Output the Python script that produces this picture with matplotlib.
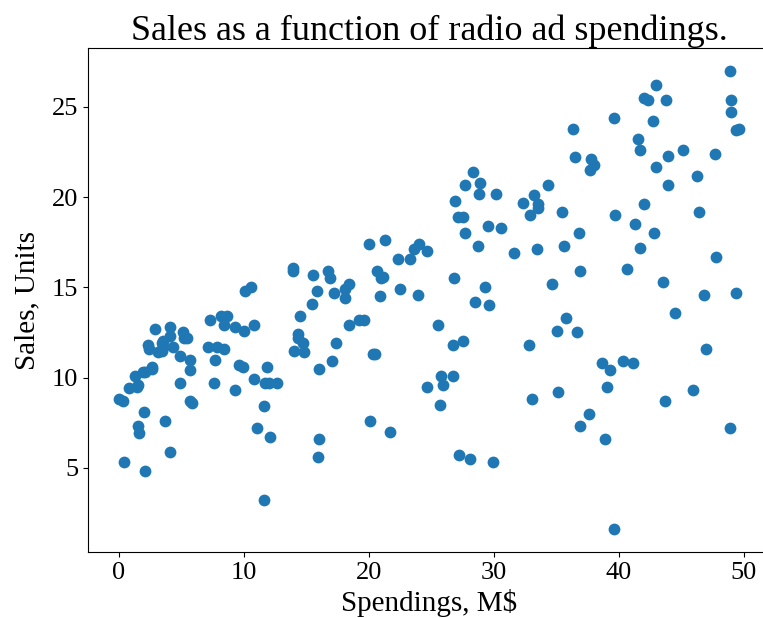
import matplotlib
matplotlib.use("Agg")
import matplotlib.pyplot as plt

radio = [37.8, 39.3, 45.9, 41.3, 10.8, 48.9, 32.8, 19.6, 2.1, 2.6,
         5.8, 24.0, 35.1, 7.6, 32.9, 47.7, 36.6, 39.6, 20.5, 23.9,
         27.7, 5.1, 15.9, 16.9, 12.6, 3.5, 29.3, 16.7, 27.1, 16.0,
         28.3, 17.4, 1.5, 20.0, 1.4, 4.1, 43.8, 49.4, 26.7, 37.7,
         22.3, 33.4, 27.7, 8.4, 25.7, 22.5, 9.9, 41.5, 15.8, 11.7,
         3.1, 9.6, 41.7, 46.2, 28.8, 49.4, 28.1, 19.2, 49.6, 29.5,
         2.0, 42.7, 15.5, 29.6, 42.8, 9.3, 24.6, 14.5, 27.5, 43.9,
         30.6, 14.3, 33.0, 5.7, 24.6, 43.7, 1.6, 28.5, 29.9, 7.7,
         26.7, 4.1, 20.3, 44.5, 43.0, 18.4, 27.5, 40.6, 25.5, 47.8,
         4.9, 1.5, 33.5, 36.5, 14.0, 31.6, 3.5, 21.0, 42.3, 41.7,
         4.3, 36.3, 10.1, 17.2, 34.3, 46.4, 11.0, 0.3, 0.4, 26.9,
         8.2, 38.0, 15.4, 20.6, 46.8, 35.0, 14.3, 0.8, 36.9, 16.0,
         26.8, 21.7, 2.4, 34.6, 32.3, 11.8, 38.9, 0.0, 49.0, 12.0,
         39.6, 2.9, 27.2, 33.5, 38.6, 47.0, 39.0, 28.9, 25.9, 43.9,
         17.0, 35.4, 33.2, 5.7, 14.8, 1.9, 7.3, 49.0, 40.3, 25.8,
         13.9, 8.4, 23.3, 39.7, 21.1, 11.6, 43.5, 1.3, 36.9, 18.4,
         18.1, 35.8, 18.1, 36.8, 14.7, 3.4, 37.6, 5.2, 23.6, 10.6,
         11.6, 20.9, 20.1, 7.1, 3.4, 48.9, 30.2, 7.8, 2.3, 10.0,
         2.6, 5.4, 5.7, 43.0, 21.3, 45.1, 2.1, 28.7, 13.9, 12.1,
         41.1, 10.8, 4.1, 42.0, 35.6, 3.7, 4.9, 9.3, 42.0, 8.6]

sales = [22.1, 10.4, 9.3, 18.5, 12.9, 7.2, 11.8, 13.2, 4.8, 10.6,
         8.6, 17.4, 9.2, 9.7, 19.0, 22.4, 12.5, 24.4, 11.3, 14.6,
         18.0, 12.5, 5.6, 15.5, 9.7, 12.0, 15.0, 15.9, 18.9, 10.5,
         21.4, 11.9, 9.6, 17.4, 9.5, 12.8, 25.4, 14.7, 10.1, 21.5,
         16.6, 17.1, 20.7, 12.9, 8.5, 14.9, 10.6, 23.2, 14.8, 9.7,
         11.4, 10.7, 22.6, 21.2, 20.2, 23.7, 5.5, 13.2, 23.8, 18.4,
         8.1, 24.2, 15.7, 14.0, 18.0, 9.3, 9.5, 13.4, 18.9, 22.3,
         18.3, 12.4, 8.8, 11.0, 17.0, 8.7, 6.9, 14.2, 5.3, 11.0,
         11.8, 12.3, 11.3, 13.6, 21.7, 15.2, 12.0, 16.0, 12.9, 16.7,
         11.2, 7.3, 19.4, 22.2, 11.5, 16.9, 11.7, 15.5, 25.4, 17.2,
         11.7, 23.8, 14.8, 14.7, 20.7, 19.2, 7.2, 8.7, 5.3, 19.8,
         13.4, 21.8, 14.1, 15.9, 14.6, 12.6, 12.2, 9.4, 15.9, 6.6,
         15.5, 7.0, 11.6, 15.2, 19.7, 10.6, 6.6, 8.8, 24.7, 9.7,
         1.6, 12.7, 5.7, 19.6, 10.8, 11.6, 9.5, 20.8, 9.6, 20.7,
         10.9, 19.2, 20.1, 10.4, 11.4, 10.3, 13.2, 25.4, 10.9, 10.1,
         16.1, 11.6, 16.6, 19.0, 15.6, 3.2, 15.3, 10.1, 7.3, 12.9,
         14.4, 13.3, 14.9, 18.0, 11.9, 11.9, 8.0, 12.2, 17.1, 15.0,
         8.4, 14.5, 7.6, 11.7, 11.5, 27.0, 20.2, 11.7, 11.8, 12.6,
         10.5, 12.2, 8.7, 26.2, 17.6, 22.6, 10.3, 17.3, 15.9, 6.7,
         10.8, 9.9, 5.9, 19.6, 17.3, 7.6, 9.7, 12.8, 25.5, 13.4]

title = "Sales as a function of radio ad spendings."
xlabel = "Spendings, M\\$"
ylabel = "Sales, Units"

plt.rcParams['font.family'] = ['Liberation Serif', 'DejaVu Serif']
plt.rcParams['mathtext.fontset'] = 'stix'

W, H = 763, 618
fig = plt.figure(figsize=(W / 100, H / 100), dpi=100)
ax = fig.add_axes([88 / W, 66 / H, 682 / W, 504 / H])
ax.scatter(radio, sales, s=72, color='#1f77b4', linewidths=0)
ax.set_title(title, fontsize=26, pad=5)
ax.set_xlabel(xlabel, fontsize=21, labelpad=4)
ax.set_ylabel(ylabel, fontsize=21, labelpad=8)
ax.tick_params(labelsize=19)
fig.savefig("out.png", dpi=100)
